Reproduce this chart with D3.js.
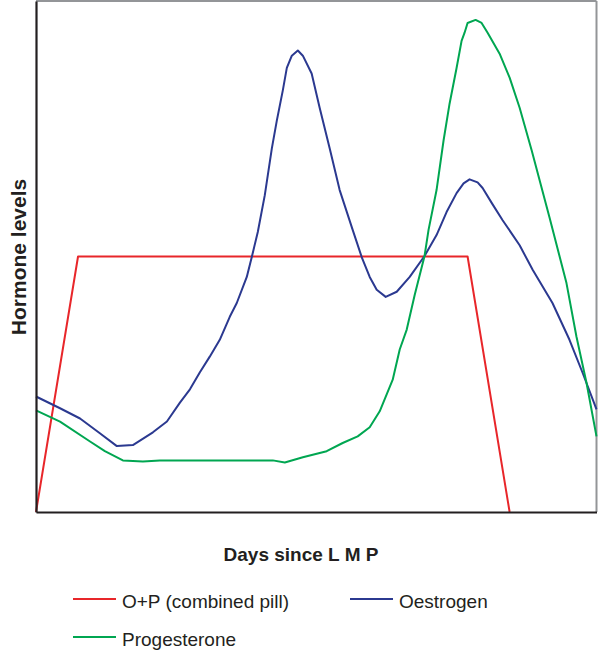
<!DOCTYPE html>
<html>
<head>
<meta charset="utf-8">
<script src="https://cdn.jsdelivr.net/npm/d3@7"></script>
<style>
  html, body { margin: 0; padding: 0; background: #fff; }
  svg { display: block; font-family: "Liberation Sans", Arial, Helvetica, sans-serif; }
</style>
</head>
<body>
<svg id="chart" width="600" height="652"></svg>
<script>
// Days since LMP (x) and hormone level (y, relative units 0-100)
const pillDays   = [0, 2.1, 21.56, 23.66];
const pillLevels = [0, 50, 50, 0];

const oestrogenDays = [0, 1.2, 2.2, 3.19, 4.04, 4.84, 5.84, 6.54, 7.19, 7.69, 8.18, 8.68, 9.18, 9.68, 10.03, 10.53, 10.78, 11.08, 11.43, 11.78, 12.03, 12.33, 12.53, 12.78, 13.08, 13.33, 13.77, 14.17, 14.67, 15.17, 15.82, 16.27, 16.67, 17.02, 17.47, 18.02, 18.67, 19.41, 20.01, 20.51, 21.01, 21.36, 21.66, 22.06, 22.31, 22.81, 23.31, 24.16, 24.81, 25.8, 26.65, 27.3, 28];
const oestrogenLevels = [22.6, 20.3, 18.3, 15.4, 12.9, 13.1, 15.6, 17.7, 21.4, 24.0, 27.3, 30.4, 33.7, 38.2, 40.9, 46.0, 49.9, 54.8, 62.0, 71.1, 76.6, 82.5, 86.9, 89.3, 90.3, 89.3, 85.8, 79.1, 71.2, 63.0, 55.2, 49.9, 46.0, 43.5, 42.1, 43.1, 46.0, 50.1, 54.2, 58.7, 62.4, 64.3, 65.1, 64.5, 63.4, 60.2, 57.1, 52.2, 47.4, 40.9, 33.7, 27.3, 20.1];

const progesteroneDays = [0, 1.2, 2.7, 3.44, 4.34, 5.34, 6.19, 8.18, 11.83, 12.43, 13.33, 14.52, 15.32, 16.07, 16.67, 17.17, 17.82, 18.17, 18.52, 18.92, 19.41, 19.61, 20.01, 20.36, 20.66, 21.01, 21.26, 21.41, 21.56, 21.96, 22.26, 22.56, 23.16, 23.66, 24.16, 24.76, 25.65, 26.5, 27.0, 27.5, 28];
const progesteroneLevels = [19.9, 17.7, 13.8, 11.9, 10.1, 9.9, 10.1, 10.1, 10.1, 9.7, 10.7, 11.9, 13.5, 14.8, 16.6, 19.7, 25.9, 31.8, 35.7, 42.5, 50.1, 55.2, 63.0, 72.7, 79.9, 86.9, 92.2, 93.8, 95.7, 96.3, 95.7, 93.8, 89.7, 85.0, 79.1, 70.8, 57.7, 44.8, 34.3, 25.3, 14.8];

const seriesNames  = ["O+P (combined pill)", "Oestrogen", "Progesterone"];
const seriesColors = ["#e8262a", "#2b3990", "#00a651"];
const xTitle = "Days since L M P";
const yTitle = "Hormone levels";

const svg = d3.select("#chart");
const pLeft = 36, pRight = 596.5, pTop = 1, pBottom = 512;

const x = d3.scaleLinear().domain([0, 28]).range([pLeft, pRight]);
const y = d3.scaleLinear().domain([0, 100]).range([pBottom, pTop]);

// frame top/right (grey)
svg.append("line").attr("x1", pLeft).attr("x2", pRight).attr("y1", pTop).attr("y2", pTop)
  .attr("stroke", "#939598").attr("stroke-width", 2);
svg.append("line").attr("x1", pRight).attr("x2", pRight).attr("y1", pTop).attr("y2", pBottom)
  .attr("stroke", "#939598").attr("stroke-width", 2);

const toPts = (xs, ys) => xs.map((d, i) => [d, ys[i]]);
const series = [
  toPts(pillDays, pillLevels),
  toPts(oestrogenDays, oestrogenLevels),
  toPts(progesteroneDays, progesteroneLevels)
];

const line = d3.line().x(d => x(d[0])).y(d => y(d[1])).curve(d3.curveLinear);

series.forEach((pts, i) => {
  svg.append("path").datum(pts)
    .attr("d", line)
    .attr("fill", "none")
    .attr("stroke", seriesColors[i])
    .attr("stroke-width", 2)
    .attr("stroke-linejoin", "round");
});

// axes (no ticks)
const gx = svg.append("g").attr("transform", `translate(0,${pBottom})`)
  .call(d3.axisBottom(x).ticks(0).tickSizeOuter(0));
const gy = svg.append("g").attr("transform", `translate(${pLeft},0)`)
  .call(d3.axisLeft(y).ticks(0).tickSizeOuter(0));
[gx, gy].forEach(g => g.select(".domain").attr("stroke", "#231f20").attr("stroke-width", 2.2));

// axis titles
svg.append("text").attr("x", 301).attr("y", 561)
  .attr("text-anchor", "middle").attr("font-weight", "bold").attr("font-size", 19)
  .attr("fill", "#231f20").text(xTitle);
svg.append("text").attr("transform", "translate(26,257) rotate(-90)")
  .attr("text-anchor", "middle").attr("font-weight", "bold").attr("font-size", 21)
  .attr("fill", "#231f20").text(yTitle);

// legend
const legendPos = [[73, 599], [350, 599], [73, 637]];
seriesNames.forEach((name, i) => {
  const [lx, ly] = legendPos[i];
  svg.append("line").attr("x1", lx).attr("x2", lx + 43).attr("y1", ly).attr("y2", ly)
    .attr("stroke", seriesColors[i]).attr("stroke-width", 2);
  svg.append("text").attr("x", lx + 49).attr("y", ly + 9)
    .attr("font-size", 19).attr("fill", "#231f20").text(name);
});
</script>
</body>
</html>
